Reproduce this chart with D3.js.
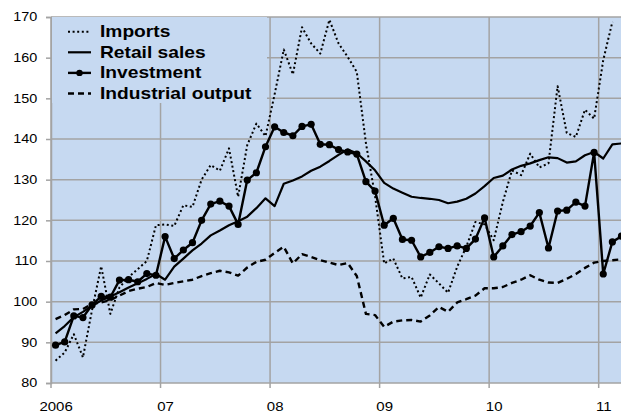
<!DOCTYPE html>
<html lang="en">
<head>
<meta charset="UTF-8">
<title>Imports, retail sales, investment, industrial output</title>
<style>
  body { margin: 0; background: #fff; }
  svg text { font-family: "Liberation Sans", Arial, sans-serif; fill: #000; }
</style>
</head>
<body>
<svg id="chart" width="621" height="412"></svg>
<script src="https://d3js.org/d3.v7.min.js"></script>
<script>
// monthly data, Jan 2006 .. Mar 2011
const years = ["2006", "07", "08", "09", "10", "11"];
const imports = [85.5, 87.5, 92, 86.3, 98, 108.7, 97, 103.5, 106, 108, 110, 118.8,
  119, 118.6, 123.7, 123.3, 130, 133.6, 132.2, 137.7, 125.8, 138.5, 143.8, 140.7,
  151, 162, 155.9, 167.5, 163.5, 161, 169.3, 163.5, 160.2, 156.5, 139, 126,
  109.4, 110.6, 105.7, 106.1, 101, 106.7, 104.5, 102.2, 108.6, 113.5, 119.6, 119,
  115.1, 124.5, 132.3, 131.1, 136.4, 133, 134, 153, 141.5, 140.5, 147.2, 145,
  159.4, 168.8, null];
const retail = [92.2, 94, 96.2, 97.5, 99, 100.3, 101.3, 102.3, 103.5, 104.5, 105.6, 106.8,
  105.4, 108.6, 110.6, 112.6, 114.3, 116.3, 117.5, 118.8, 119.8, 120.9, 123, 125.4,
  123.5, 129, 129.8, 130.8, 132.2, 133.2, 134.6, 136.1, 137.4, 136.5, 134.5, 132.3,
  129.2, 127.8, 126.8, 125.8, 125.5, 125.3, 125, 124.2, 124.6, 125.3, 126.6, 128.4,
  130.4, 131, 132.5, 133.4, 134, 134.8, 135.5, 135.3, 134.2, 134.5, 136, 136.8,
  135.2, 138.7, 138.9];
const investment = [89.3, 90.1, 96.5, 96.1, 99.2, 101.3, 101.1, 105.3, 105.4, 104.9, 106.9, 106.5,
  116.0, 110.6, 112.7, 114.5, 120.0, 124.0, 124.7, 123.5, 119.0, 129.9, 131.7, 138.1,
  143.0, 141.6, 140.8, 143.1, 143.6, 138.7, 138.6, 137.4, 136.8, 136.3, 129.5, 127.2,
  118.8, 120.5, 115.3, 115.1, 111.0, 112.1, 113.5, 113.1, 113.7, 113.1, 115.4, 120.6,
  111.0, 113.7, 116.5, 117.2, 118.6, 121.9, 113.2, 122.3, 122.5, 124.5, 123.5, 136.7,
  106.8, 114.7, 116.1];
const industrial = [95.7, 96.7, 98.1, 98.2, 99.5, 99.8, 100.4, 101.5, 102.6, 103.2, 103.6, 104.6,
  104.1, 104.6, 105, 105.4, 106.3, 107, 107.6, 107.2, 106.4, 108.4, 109.8, 110.3,
  112, 113.5, 109.4, 111.7, 111, 110.2, 109.6, 109, 109.5, 106.3, 97, 96.7,
  93.8, 95.1, 95.4, 95.5, 95.1, 96.6, 98.7, 97.5, 99.8, 100.6, 101.5, 103.3,
  103.3, 103.6, 104.6, 105.4, 106.5, 105.4, 104.7, 104.6, 105.6, 106.8, 108.3, 109.6,
  110, 110.2, 110.4];
const yTicks = [80, 90, 100, 110, 120, 130, 140, 150, 160, 170];

const svg = d3.select("#chart");
const plotLeft = 51, plotTop = 17, plotBottom = 383;
const monthW = 9.128;
const n = retail.length;

const x = d3.scaleLinear().domain([0, n]).range([plotLeft, plotLeft + n * monthW]);
const y = d3.scaleLinear().domain([80, 170]).range([plotBottom, plotTop]);
const stretch = "scale(1.2,1)";

// plot background
svg.append("rect")
  .attr("x", plotLeft).attr("y", plotTop)
  .attr("width", x(n) - plotLeft).attr("height", plotBottom - plotTop)
  .attr("fill", "#c6d9f1");

svg.append("clipPath").attr("id", "plot")
  .append("rect")
  .attr("x", plotLeft).attr("y", plotTop - 2)
  .attr("width", x(n) - plotLeft).attr("height", plotBottom - plotTop + 2);

// gridlines
const grid = svg.append("g").attr("stroke", "#a3a3a3").attr("stroke-width", 1.5);
yTicks.forEach(v => {
  grid.append("line")
    .attr("x1", plotLeft).attr("x2", x(n))
    .attr("y1", y(v)).attr("y2", y(v));
});
years.forEach((yr, i) => {
  grid.append("line")
    .attr("x1", x(i * 12)).attr("x2", x(i * 12))
    .attr("y1", plotTop).attr("y2", plotBottom + 5);
});

// y axis
const yAxis = svg.append("g")
  .attr("transform", "translate(" + plotLeft + ",0)")
  .call(d3.axisLeft(y).tickValues(yTicks).tickSize(5).tickPadding(6.4));
yAxis.select(".domain").attr("stroke", "#a3a3a3").attr("stroke-width", 1.5);
yAxis.selectAll(".tick line").attr("stroke", "#a3a3a3").attr("stroke-width", 1.5);
yAxis.selectAll("text")
  .attr("font-size", 12)
  .attr("font-family", "Liberation Sans, Arial, sans-serif")
  .attr("transform", stretch);

// x axis labels centred on January of each year
const xAxis = svg.append("g")
  .attr("transform", "translate(0," + plotBottom + ")")
  .call(d3.axisBottom(x)
    .tickValues(years.map((yr, i) => i * 12 + 0.5))
    .tickFormat((d, i) => years[i])
    .tickSize(0));
xAxis.select(".domain").remove();
xAxis.selectAll("text")
  .attr("y", 27.7).attr("dy", 0)
  .attr("font-size", 12.5)
  .attr("font-family", "Liberation Sans, Arial, sans-serif")
  .attr("transform", stretch);

// legend box hides gridlines
svg.append("rect")
  .attr("x", plotLeft + 1).attr("y", plotTop)
  .attr("width", 215).attr("height", 86)
  .attr("fill", "#c6d9f1");

// series
const series = [
  { name: "Imports", values: imports, width: 2, dash: "2,2.6", marker: false },
  { name: "Retail sales", values: retail, width: 2.2, dash: null, marker: false },
  { name: "Investment", values: investment, width: 2.4, dash: null, marker: true },
  { name: "Industrial output", values: industrial, width: 2.4, dash: "6,4", marker: false }
];

const line = d3.line()
  .defined(d => d != null)
  .x((d, i) => x(i + 0.5))
  .y(d => y(d));

const plot = svg.append("g").attr("clip-path", "url(#plot)");
series.forEach(s => {
  plot.append("path")
    .datum(s.values)
    .attr("fill", "none")
    .attr("stroke", "#000")
    .attr("stroke-width", s.width)
    .attr("stroke-linejoin", "round")
    .attr("stroke-dasharray", s.dash)
    .attr("d", line);
  if (s.marker) {
    plot.selectAll(null)
      .data(s.values)
      .enter().append("circle")
      .attr("cx", (d, i) => x(i + 0.5))
      .attr("cy", d => y(d))
      .attr("r", 3.6)
      .attr("fill", "#000");
  }
});

// legend
const legend = svg.append("g");
series.forEach((s, i) => {
  const ly = 31.7 + i * 20.6;
  legend.append("line")
    .attr("x1", 68).attr("x2", 91)
    .attr("y1", ly).attr("y2", ly)
    .attr("stroke", "#000")
    .attr("stroke-width", s.width)
    .attr("stroke-dasharray", s.dash);
  if (s.marker) {
    legend.append("circle").attr("cx", 79.5).attr("cy", ly).attr("r", 3.2).attr("fill", "#000");
  }
  legend.append("text")
    .attr("transform", "translate(100," + (ly + 5.2) + ") " + stretch)
    .attr("font-size", 16)
    .attr("font-weight", "bold")
    .text(s.name);
});
</script>
</body>
</html>
